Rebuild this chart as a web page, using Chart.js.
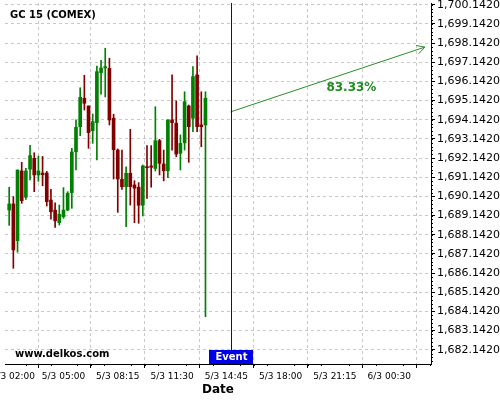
<!DOCTYPE html>
<html>
<head>
<meta charset="utf-8">
<script src="https://cdn.jsdelivr.net/npm/chart.js@4.4.0/dist/chart.umd.min.js"></script>
<style>
  html, body { margin: 0; padding: 0; background: #fff; }
  canvas { display: block; }
</style>
</head>
<body>
<canvas id="chart" width="500" height="400"></canvas>
<script>
// --- DATA ---
// candle times, minutes from 5/3 00:00 (15 minute bars)
const candleTimes = [105, 120, 135, 150, 165, 180, 195, 210, 225, 240, 255, 270,
    285, 300, 315, 330, 345, 360, 375, 390, 405, 420, 435, 450,
    465, 480, 495, 510, 525, 540, 555, 570, 585, 600, 615, 630,
    645, 660, 675, 690, 705, 720, 735, 750, 765, 780, 795, 810];
const opens = [1689.43, 1689.75, 1687.83, 1691.47, 1690.10, 1691.56, 1692.13, 1691.26, 1691.36, 1691.36, 1689.95, 1689.43,
    1688.77, 1689.08, 1689.43, 1690.34, 1692.47, 1693.78, 1695.26, 1694.86, 1693.57, 1693.99, 1696.60, 1696.84,
    1696.82, 1694.22, 1692.56, 1691.03, 1690.65, 1691.35, 1690.74, 1690.62, 1689.68, 1691.69, 1691.73, 1691.60,
    1693.05, 1691.83, 1691.48, 1694.13, 1693.96, 1692.39, 1692.94, 1694.86, 1694.22, 1696.48, 1693.87, 1693.87];
const highs = [1690.62, 1690.13, 1691.52, 1691.92, 1691.61, 1692.81, 1692.42, 1692.25, 1692.23, 1691.45, 1690.51, 1689.81,
    1689.69, 1690.60, 1690.39, 1692.65, 1694.13, 1695.81, 1696.46, 1694.86, 1694.44, 1696.94, 1697.24, 1697.87,
    1697.35, 1694.43, 1692.62, 1692.56, 1691.69, 1693.64, 1690.96, 1690.86, 1691.78, 1692.79, 1692.79, 1694.82,
    1693.12, 1692.56, 1694.13, 1696.48, 1695.13, 1693.35, 1695.60, 1694.91, 1696.91, 1697.47, 1695.60, 1695.60];
const lows = [1688.63, 1686.39, 1687.23, 1689.78, 1689.99, 1691.00, 1690.39, 1690.93, 1690.70, 1689.64, 1688.95, 1688.53,
    1688.65, 1689.00, 1689.40, 1689.52, 1691.52, 1693.31, 1694.65, 1692.65, 1692.91, 1692.04, 1695.48, 1695.33,
    1693.87, 1691.05, 1689.31, 1690.51, 1688.56, 1689.69, 1688.77, 1688.74, 1689.12, 1690.04, 1690.62, 1691.47,
    1691.26, 1690.95, 1691.12, 1692.56, 1692.21, 1691.52, 1692.56, 1691.92, 1693.52, 1693.52, 1692.73, 1683.87];
const closes = [1689.75, 1687.35, 1691.52, 1689.92, 1691.47, 1692.27, 1691.26, 1691.47, 1691.27, 1689.87, 1689.34, 1688.87,
    1689.21, 1689.43, 1690.30, 1692.46, 1693.75, 1695.31, 1695.00, 1693.47, 1694.04, 1696.65, 1696.84, 1696.91,
    1694.13, 1692.58, 1691.05, 1690.65, 1691.35, 1690.65, 1690.57, 1689.68, 1691.73, 1691.64, 1691.66, 1693.05,
    1691.87, 1691.48, 1694.13, 1693.99, 1692.35, 1692.91, 1695.08, 1693.78, 1696.39, 1693.78, 1693.78, 1695.26];

// x axis ticks (minutes) and their labels
const xTickValues = [120, 300, 495, 690, 885, 1080, 1275, 1470];
const xTickLabels = ['5/3 02:00', '5/3 05:00', '5/3 08:15', '5/3 11:30', '5/3 14:45', '5/3 18:00', '5/3 21:15', '6/3 00:30'];
const yTickValues = [1682.142, 1683.142, 1684.142, 1685.142, 1686.142, 1687.142, 1688.142, 1689.142, 1690.142,
    1691.142, 1692.142, 1693.142, 1694.142, 1695.142, 1696.142, 1697.142, 1698.142, 1699.142, 1700.142];

// event marker and forecast arrow
const eventTime = 900;
const arrowTimes = [900, 1598];
const arrowValues = [1694.55, 1697.93];
const arrowLabel = '83.33%';
const arrowLabelAt = { x: 1334, y: 1695.80 };

const GREEN = '#008000';
const RED = '#800000';
const FONT = '"DejaVu Sans", Verdana, sans-serif';

Chart.defaults.font.family = FONT;

// --- HELPERS ---
const candleColors = candleTimes.map((t, i) => closes[i] >= opens[i] ? GREEN : RED);
const bodyData = candleTimes.map((t, i) => ({ x: t, y: [Math.min(opens[i], closes[i]), Math.max(opens[i], closes[i])] }));
const wickData = candleTimes.map((t, i) => ({ x: t, y: [lows[i], highs[i]] }));
const arrowData = arrowTimes.map((t, i) => ({ x: t, y: arrowValues[i] }));

function formatPrice(v) {
    return Number(v).toLocaleString('en-US', { minimumFractionDigits: 4, maximumFractionDigits: 4 });
}

const overlayPlugin = {
    id: 'overlay',
    afterDatasetsDraw(chart) {
        const { ctx, chartArea } = chart;
        const xs = chart.scales.x, ys = chart.scales.y;

        ctx.save();
        // event line
        const ex = Math.round(xs.getPixelForValue(eventTime)) + 0.5;
        ctx.strokeStyle = '#0000e6';
        ctx.lineWidth = 1;
        ctx.beginPath();
        ctx.moveTo(ex, chartArea.top);
        ctx.lineTo(ex, chartArea.bottom);
        ctx.stroke();

        // arrow head
        const pts = chart.getDatasetMeta(2).data;
        const p0 = pts[0], p1 = pts[pts.length - 1];
        const ang = Math.atan2(p1.y - p0.y, p1.x - p0.x);
        ctx.strokeStyle = '#2a8c2a';
        ctx.beginPath();
        ctx.moveTo(p1.x - 9 * Math.cos(ang - 0.5), p1.y - 9 * Math.sin(ang - 0.5));
        ctx.lineTo(p1.x, p1.y);
        ctx.lineTo(p1.x - 9 * Math.cos(ang + 0.5), p1.y - 9 * Math.sin(ang + 0.5));
        ctx.stroke();

        // probability label
        ctx.fillStyle = '#1f8a1f';
        ctx.font = 'bold 12px ' + FONT;
        ctx.textAlign = 'center';
        ctx.textBaseline = 'middle';
        ctx.fillText(arrowLabel, xs.getPixelForValue(arrowLabelAt.x), ys.getPixelForValue(arrowLabelAt.y));

        // event box
        ctx.fillStyle = '#0000e6';
        ctx.fillRect(ex - 22.5, chartArea.bottom - 14, 44, 14);
        ctx.fillStyle = '#fff';
        ctx.font = 'bold 10px ' + FONT;
        ctx.fillText('Event', ex, chartArea.bottom - 6.5);

        // title and watermark
        ctx.fillStyle = '#000';
        ctx.textAlign = 'left';
        ctx.fillText('GC 15 (COMEX)', 10, 15);
        ctx.fillText('www.delkos.com', 15, chartArea.bottom - 10);

        // minor ticks
        ctx.strokeStyle = '#000';
        ctx.beginPath();
        for (let v = yTickValues[0] - 1; v < ys.max; v += 0.2) {
            if (v < ys.min) continue;
            const py = Math.round(ys.getPixelForValue(v)) + 0.5;
            ctx.moveTo(chartArea.right, py);
            ctx.lineTo(chartArea.right + 2, py);
        }
        const xt = [xTickValues[0] - 195].concat(xTickValues, [xTickValues[xTickValues.length - 1] + 195]);
        for (let i = 0; i < xt.length - 1; i++) {
            const step = (xt[i + 1] - xt[i]) / 4;
            for (let k = 1; k < 4; k++) {
                const v = xt[i] + k * step;
                if (v < xs.min || v > xs.max) continue;
                const px = Math.round(xs.getPixelForValue(v)) + 0.5;
                ctx.moveTo(px, chartArea.bottom);
                ctx.lineTo(px, chartArea.bottom + 2);
            }
        }
        ctx.stroke();
        ctx.restore();
    }
};

const gridOpts = { color: '#c8c8c8', tickColor: '#000', tickLength: 4, tickBorderDash: [] };
const borderOpts = { color: '#000', width: 1, dash: [3, 3] };

new Chart(document.getElementById('chart'), {
    type: 'bar',
    data: {
        datasets: [
            {
                label: 'body',
                data: bodyData,
                backgroundColor: candleColors,
                borderWidth: 0,
                barThickness: 3,
                minBarLength: 1,
                grouped: false
            },
            {
                label: 'wick',
                data: wickData,
                backgroundColor: candleColors,
                borderWidth: 0,
                barThickness: 1,
                minBarLength: 1,
                grouped: false
            },
            {
                type: 'line',
                label: 'forecast',
                data: arrowData,
                borderColor: '#2a8c2a',
                borderWidth: 1,
                pointRadius: 0,
                fill: false
            }
        ]
    },
    options: {
        responsive: false,
        animation: false,
        layout: { padding: { left: 5, top: 3, right: 0, bottom: 0 } },
        plugins: {
            legend: { display: false },
            tooltip: { enabled: false }
        },
        scales: {
            x: {
                type: 'linear',
                min: 90,
                max: 1620,
                offset: false,
                grid: gridOpts,
                border: borderOpts,
                ticks: {
                    autoSkip: false,
                    maxRotation: 0,
                    padding: 3,
                    color: '#000',
                    font: { size: 9 },
                    callback: (v, i) => xTickLabels[i]
                },
                title: {
                    display: true,
                    text: 'Date',
                    color: '#000',
                    font: { size: 12, weight: 'bold' },
                    padding: { top: 0, bottom: 3 }
                },
                afterBuildTicks: s => { s.ticks = xTickValues.map(v => ({ value: v })); },
                afterFit: s => { s.height = 36; s.paddingLeft = 0; s.paddingRight = 0; }
            },
            y: {
                position: 'right',
                min: 1681.40,
                max: 1700.23,
                grid: gridOpts,
                border: borderOpts,
                ticks: {
                    padding: 2,
                    color: '#000',
                    font: { size: 11 },
                    callback: v => formatPrice(v)
                },
                afterBuildTicks: s => { s.ticks = yTickValues.map(v => ({ value: v })); },
                afterFit: s => { s.width = 69; s.paddingTop = 0; s.paddingBottom = 0; }
            }
        }
    },
    plugins: [overlayPlugin]
});
</script>
</body>
</html>
